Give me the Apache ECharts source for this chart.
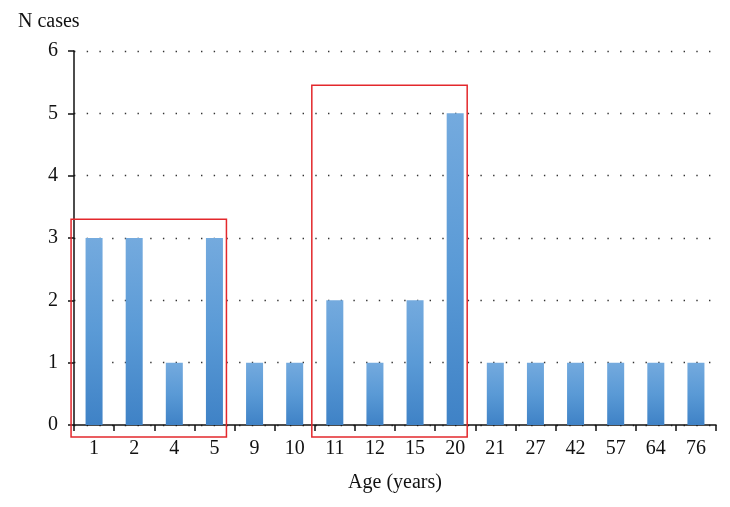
<!DOCTYPE html>
<html>
<head>
<meta charset="utf-8">
<script src="https://cdn.jsdelivr.net/npm/echarts@6/dist/echarts.min.js"></script>
<style>html,body{margin:0;padding:0;background:#fff}#c{width:730px;height:507px}</style>
</head>
<body>
<div id="c"></div>
<script>
var categories = ['1','2','4','5','9','10','11','12','15','20','21','27','42','57','64','76'];
var cases = [3,3,1,3,1,1,2,1,2,5,1,1,1,1,1,1];
var yTicks = [0,1,2,3,4,5,6];
var highlightBoxes = [
  {from: '1', to: '5', top: 3.3},
  {from: '11', to: '20', top: 5.45}
];

var font = '"Liberation Serif", "DejaVu Serif", serif';
var chart = echarts.init(document.getElementById('c'), null, {renderer: 'canvas'});
var option = {
  animation: false,
  backgroundColor: '#fff',
  title: {
    text: 'N cases', left: 13, top: 7,
    textStyle: {fontFamily: font, fontSize: 20, fontWeight: 'normal', color: '#111'}
  },
  grid: {left: 74, right: 14, top: 51, bottom: 82},
  xAxis: {
    type: 'category',
    data: categories,
    name: 'Age (years)',
    nameLocation: 'middle',
    nameGap: 48,
    nameTextStyle: {fontFamily: font, fontSize: 20, color: '#111'},
    axisLine: {lineStyle: {color: '#111', width: 1.5}},
    axisTick: {show: true, length: 6, lineStyle: {color: '#111', width: 1.5}},
    axisLabel: {fontFamily: font, fontSize: 20, color: '#111', margin: 14}
  },
  yAxis: {
    type: 'value',
    min: yTicks[0], max: yTicks[yTicks.length - 1], interval: 1,
    axisLine: {show: true, lineStyle: {color: '#111', width: 1.5}},
    axisTick: {show: true, length: 6, lineStyle: {color: '#111', width: 1.5}},
    axisLabel: {fontFamily: font, fontSize: 20, color: '#111', margin: 16},
    splitLine: {show: true, lineStyle: {color: '#333', width: 1.4, type: [1.4, 11.3]}}
  },
  series: [{
    type: 'bar',
    data: cases,
    barWidth: 17,
    itemStyle: {
      color: new echarts.graphic.LinearGradient(0, 0, 0, 1, [
        {offset: 0, color: '#74aade'},
        {offset: 0.5, color: '#5a9ad6'},
        {offset: 1, color: '#3f82c6'}
      ])
    }
  }]
};
chart.setOption(option);

function drawBoxes() {
  var els = highlightBoxes.map(function (b) {
    var i0 = categories.indexOf(b.from), i1 = categories.indexOf(b.to);
    var p0 = chart.convertToPixel({seriesIndex: 0}, [i0, b.top]);
    var p1 = chart.convertToPixel({seriesIndex: 0}, [i1, 0]);
    var x0 = p0[0] - 23, x1 = p1[0] + 12;
    var y0 = p0[1], y1 = p1[1] + 12;
    return {
      type: 'rect',
      shape: {x: x0, y: y0, width: x1 - x0, height: y1 - y0},
      style: {fill: 'none', stroke: '#e3282c', lineWidth: 1.5},
      z: 100
    };
  });
  chart.setOption({graphic: els});
}
drawBoxes();
</script>
</body>
</html>
